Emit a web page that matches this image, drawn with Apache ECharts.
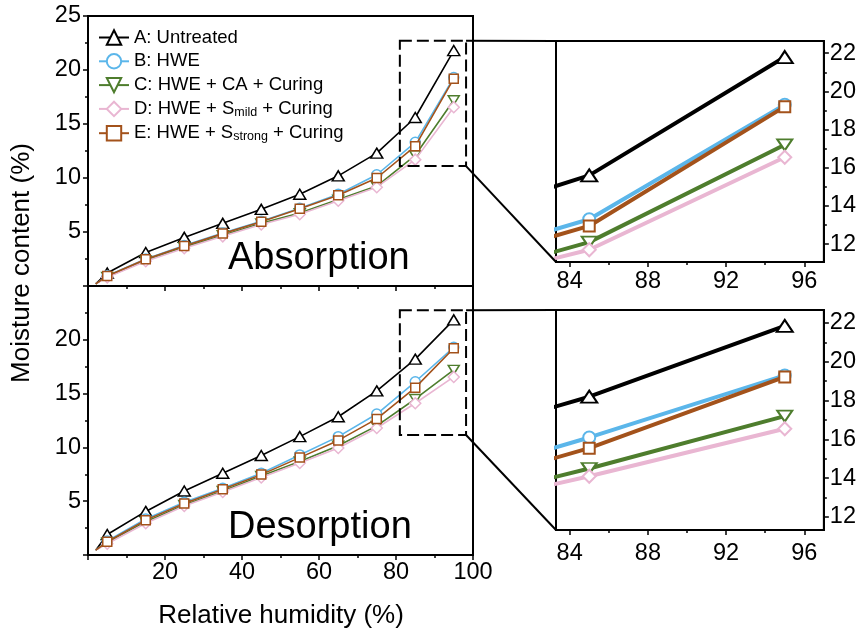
<!DOCTYPE html>
<html><head><meta charset="utf-8">
<script src="https://cdn.jsdelivr.net/npm/echarts@6/dist/echarts.min.js"></script>
<style>html,body{margin:0;padding:0;background:#fff}#main{width:859px;height:633px}</style>
</head><body><div id="main"></div>
<script>
// ---------- data ----------
const rh = [5, 15, 25, 35, 45, 55, 65, 75, 85, 95];
const absStart = [2, 0.2];
const desStart = [2, 0.45];
const absA = [1.2, 3.1, 4.5, 5.8, 7.1, 8.5, 10.2, 12.3, 15.6, 21.8];
const absB = [0.95, 2.5, 3.75, 4.9, 6.0, 7.2, 8.5, 10.3, 13.3, 19.3];
const absC = [0.85, 2.35, 3.6, 4.7, 5.8, 6.75, 8.0, 9.25, 12.1, 17.2];
const absD = [0.8, 2.3, 3.5, 4.6, 5.7, 6.65, 7.9, 9.15, 11.7, 16.55];
const absE = [0.93, 2.47, 3.7, 4.85, 5.95, 7.15, 8.4, 10.0, 12.95, 19.2];
const desA = [1.9, 4.05, 5.95, 7.6, 9.25, 11.0, 12.85, 15.25, 18.2, 21.85];
const desB = [1.3, 3.35, 4.9, 6.2, 7.6, 9.3, 11.0, 13.1, 16.1, 19.3];
const desC = [1.15, 3.1, 4.65, 5.95, 7.35, 8.7, 10.15, 12.0, 14.5, 17.2];
const desD = [1.05, 2.95, 4.55, 5.85, 7.2, 8.55, 9.95, 11.8, 14.1, 16.55];
const desE = [1.23, 3.24, 4.78, 6.1, 7.47, 9.05, 10.65, 12.65, 15.55, 19.22];
const seriesNames = ['A: Untreated', 'B: HWE', 'C: HWE + CA + Curing', 'D: HWE + Smild + Curing', 'E: HWE + Sstrong + Curing'];
const legendLabels = ['{n|A: Untreated}', '{n|B: HWE}', '{n|C: HWE + CA + Curing}', '{n|D: HWE + S}{s|mild}{n| + Curing}', '{n|E: HWE + S}{s|strong}{n| + Curing}'];
const zoomXTicks = [84, 88, 92, 96];
const zoomXMinor = [86, 90, 94];
const zoomYTicks = [12, 14, 16, 18, 20, 22];
const zoomYMinor = [13, 15, 17, 19, 21];
const zoomX = [83.3, 97];
const zoomYTop = [11.06, 22.64];
const zoomYBot = [11.33, 22.67];
const boxX = [81, 98.2];
const boxYTop = [11.1, 22.7];
const boxYBot = [11.15, 22.75];

// ---------- styles ----------
const FONT = '"Liberation Sans", Arial, sans-serif';
const colors = ['#000000', '#5BB6EA', '#4E7D2D', '#E9B6D2', '#A3521B'];
const symbols = ['triangle', 'circle', 'triangle', 'diamond', 'rect'];
const rotates = [0, 0, 180, 0, 0];
const smallSize = [[12, 10], 10, [11, 9], 11, 9];
const bigSize = [[16, 12], 12, [15, 11], 13, 11];

const G = [
  {left: 88, top: 16, width: 385, height: 270},
  {left: 88, top: 286, width: 385, height: 269},
  {left: 556, top: 41, width: 268, height: 221},
  {left: 556, top: 310, width: 268, height: 220}
];

const absAll = [absA, absB, absC, absD, absE];
const desAll = [desA, desB, desC, desD, desE];

function mkData(start, vals) {
  const d = [{value: start, symbol: 'none'}];
  rh.forEach((x, i) => d.push([x, vals[i]]));
  return d;
}
const series = [];
function addSet(all, start, axisIdx, big) {
  all.forEach((vals, k) => {
    series.push({
      type: 'line', name: seriesNames[k],
      xAxisIndex: axisIdx, yAxisIndex: axisIdx,
      data: mkData(start, vals),
      symbol: symbols[k], symbolRotate: rotates[k],
      symbolSize: big ? bigSize[k] : smallSize[k],
      showAllSymbol: true,
      lineStyle: {color: colors[k], width: big ? 4 : 1.6},
      itemStyle: {color: '#fff', borderColor: colors[k], borderWidth: big ? 2 : 1.5},
      emphasis: {disabled: true},
      animation: false, z: 2 + k
    });
  });
}
addSet(absAll, absStart, 0, false);
addSet(desAll, desStart, 1, false);
addSet(absAll, absStart, 2, true);
addSet(desAll, desStart, 3, true);

const lbl = {color: '#000', fontSize: 23.5, fontFamily: FONT};
const axLine = {show: true, lineStyle: {color: '#000', width: 2}};
function mainX(gi, showLabels) {
  return {
    type: 'value', gridIndex: gi, min: 0, max: 100, interval: 20,
    axisLine: axLine, splitLine: {show: false},
    axisTick: {show: true, length: 5, lineStyle: {color: '#000', width: 1.5}},
    minorTick: {show: true, splitNumber: 2, length: 3, lineStyle: {color: '#000', width: 1.5}},
    axisLabel: Object.assign({show: showLabels, margin: 6, formatter: v => v === 0 ? '' : v}, lbl)
  };
}
function mainY(gi, hideTop) {
  return {
    type: 'value', gridIndex: gi, min: 0, max: 25, interval: 5,
    axisLine: axLine, splitLine: {show: false},
    axisTick: {show: true, length: 5, lineStyle: {color: '#000', width: 1.5}},
    minorTick: {show: true, splitNumber: 2, length: 3, lineStyle: {color: '#000', width: 1.5}},
    axisLabel: Object.assign({margin: 7, formatter: v => (v === 0 || (hideTop && v === 25)) ? '' : v}, lbl)
  };
}
function zX(gi, margin) {
  return {
    type: 'value', gridIndex: gi, min: zoomX[0], max: zoomX[1],
    axisLine: axLine, splitLine: {show: false},
    axisTick: {show: true, length: 5, customValues: zoomXTicks, lineStyle: {color: '#000', width: 1.5}},
    axisLabel: Object.assign({margin: margin, customValues: zoomXTicks}, lbl)
  };
}
function zXminor(gi) {
  return {
    type: 'value', gridIndex: gi, min: zoomX[0], max: zoomX[1], position: 'bottom',
    axisLine: {show: false}, splitLine: {show: false}, axisLabel: {show: false},
    axisTick: {show: true, length: 3, customValues: zoomXMinor, lineStyle: {color: '#000', width: 1.5}}
  };
}
function zY(gi, rng) {
  return {
    type: 'value', gridIndex: gi, min: rng[0], max: rng[1], position: 'right',
    axisLine: axLine, splitLine: {show: false},
    axisTick: {show: true, length: 5, customValues: zoomYTicks, lineStyle: {color: '#000', width: 1.5}},
    axisLabel: Object.assign({margin: 6, customValues: zoomYTicks}, lbl)
  };
}
function zYminor(gi, rng) {
  return {
    type: 'value', gridIndex: gi, min: rng[0], max: rng[1], position: 'right',
    axisLine: {show: false}, splitLine: {show: false}, axisLabel: {show: false},
    axisTick: {show: true, length: 3, customValues: zoomYMinor, lineStyle: {color: '#000', width: 1.5}}
  };
}

const option = {
  animation: false,
  backgroundColor: '#fff',
  grid: G.map(g => Object.assign({show: true, borderColor: '#000', borderWidth: 2, backgroundColor: 'transparent'}, g)),
  xAxis: [mainX(0, false), mainX(1, true), zX(2, 8), zX(3, 12), zXminor(2), zXminor(3)],
  yAxis: [mainY(0, false), mainY(1, true), zY(2, zoomYTop), zY(3, zoomYBot), zYminor(2, zoomYTop), zYminor(3, zoomYBot)],
  legend: {
    data: seriesNames, orient: 'vertical', left: 98, top: 28, padding: 0,
    itemGap: 4.8, itemWidth: 30, itemHeight: 18,
    formatter: name => legendLabels[seriesNames.indexOf(name)],
    textStyle: {
      color: '#000', fontFamily: FONT, fontSize: 18.5,
      rich: {
        n: {fontSize: 18.5, lineHeight: 20, fontFamily: FONT, color: '#000'},
        s: {fontSize: 12.5, lineHeight: 4, verticalAlign: 'bottom', fontFamily: FONT, color: '#000'}
      }
    }
  },
  series: series
};

const chart = echarts.init(document.getElementById('main'), null, {renderer: 'canvas'});
chart.setOption(option);

const P = (i, x, y) => chart.convertToPixel({xAxisIndex: i, yAxisIndex: i}, [x, y]);
const t1 = P(0, boxX[0], boxYTop[1]), b1 = P(0, boxX[1], boxYTop[0]);
const t2 = P(1, boxX[0], boxYBot[1]), b2 = P(1, boxX[1], boxYBot[0]);
const dash = {fill: null, stroke: '#000', lineWidth: 2, lineDash: [12, 5]};
const solid = {stroke: '#000', lineWidth: 2};
chart.setOption({
  graphic: [
    {type: 'rect', shape: {x: t1[0], y: t1[1], width: b1[0] - t1[0], height: b1[1] - t1[1]}, style: dash, z: 50},
    {type: 'rect', shape: {x: t2[0], y: t2[1], width: b2[0] - t2[0], height: b2[1] - t2[1]}, style: dash, z: 50},
    {type: 'line', shape: {x1: b1[0], y1: t1[1], x2: G[2].left, y2: G[2].top}, style: solid, z: 50},
    {type: 'line', shape: {x1: b1[0], y1: b1[1], x2: G[2].left, y2: G[2].top + G[2].height}, style: solid, z: 50},
    {type: 'line', shape: {x1: b2[0], y1: t2[1], x2: G[3].left, y2: G[3].top}, style: solid, z: 50},
    {type: 'line', shape: {x1: b2[0], y1: b2[1], x2: G[3].left, y2: G[3].top + G[3].height}, style: solid, z: 50},
    {type: 'text', x: 228, y: 259, style: {text: 'Absorption', font: '38px ' + FONT, fill: '#000', align: 'left', verticalAlign: 'middle'}, z: 50},
    {type: 'text', x: 228, y: 528, style: {text: 'Desorption', font: '38px ' + FONT, fill: '#000', align: 'left', verticalAlign: 'middle'}, z: 50},
    {type: 'text', x: 22, y: 263, rotation: Math.PI / 2, style: {text: 'Moisture content (%)', font: '26px ' + FONT, fill: '#000', align: 'center', verticalAlign: 'middle'}, z: 50},
    {type: 'text', x: 281, y: 616, style: {text: 'Relative humidity (%)', font: '26px ' + FONT, fill: '#000', align: 'center', verticalAlign: 'middle'}, z: 50}
  ]
});
</script></body></html>
